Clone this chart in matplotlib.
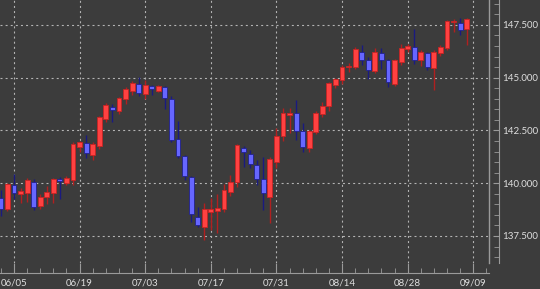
import matplotlib
matplotlib.use("Agg")
import matplotlib.pyplot as plt
import numpy as np
import pandas as pd
from matplotlib.ticker import MultipleLocator, FixedLocator

# daily bars, 2023-06-01 .. 2023-09-08
dates = pd.bdate_range("2023-06-01", "2023-09-08")

opens = [139.30, 138.80, 139.92, 139.50, 139.55, 140.05, 138.90, 139.35, 139.55, 140.20,
         140.02, 140.15, 141.72, 141.90, 141.35, 141.75, 143.05, 143.60, 143.42, 144.00,
         144.37, 144.70, 144.25, 144.60, 144.37, 144.56, 144.00, 142.10, 141.29, 140.30,
         138.40, 137.93, 138.64, 138.68, 138.78, 139.58, 140.06, 141.67, 141.39, 140.86,
         140.20, 139.35, 141.00, 142.24, 143.23, 143.33, 142.48, 141.67, 142.43, 143.28,
         143.66, 144.66, 144.89, 145.50, 145.51, 146.22, 145.84, 145.32, 146.17, 145.84,
         144.70, 145.75, 146.36, 146.46, 145.84, 146.17, 145.46, 146.17, 146.41, 147.62,
         147.60, 147.31]
highs = [139.70, 140.00, 140.45, 139.75, 140.25, 140.20, 139.50, 139.85, 140.25, 140.30,
         140.35, 141.95, 142.00, 142.30, 141.95, 143.20, 143.80, 143.75, 144.10, 144.55,
         144.85, 145.05, 144.90, 144.65, 144.65, 144.60, 144.15, 142.95, 141.35, 140.35,
         138.87, 139.06, 139.30, 139.50, 139.95, 140.40, 141.85, 141.76, 141.55, 141.10,
         141.26, 141.24, 142.60, 143.55, 143.55, 143.95, 142.86, 142.50, 143.40, 143.85,
         144.80, 145.00, 145.60, 145.70, 146.45, 146.55, 145.98, 146.40, 146.40, 145.89,
         145.90, 146.60, 146.60, 147.31, 146.30, 146.20, 146.30, 146.55, 147.75, 147.80,
         147.85, 147.85]
lows = [138.45, 138.70, 139.25, 139.05, 139.10, 138.75, 138.80, 139.00, 139.06, 139.25,
        139.90, 139.90, 141.50, 141.20, 141.10, 141.60, 142.90, 142.90, 143.30, 143.75,
        144.20, 144.15, 144.00, 144.20, 144.30, 143.52, 141.95, 141.20, 140.15, 138.16,
        137.93, 137.30, 137.78, 137.64, 138.65, 139.40, 139.80, 140.77, 140.70, 139.90,
        138.75, 138.12, 140.70, 142.00, 142.38, 142.05, 141.48, 141.50, 142.35, 143.14,
        143.40, 144.50, 144.70, 145.27, 145.40, 145.60, 144.94, 145.20, 145.40, 144.56,
        144.60, 145.60, 146.20, 145.65, 145.55, 145.35, 144.42, 146.05, 146.30, 147.15,
        147.00, 146.55]
closes = [138.80, 139.95, 139.55, 139.63, 140.15, 138.88, 139.35, 139.58, 140.20, 140.10,
          140.25, 141.86, 141.95, 141.43, 141.85, 143.14, 143.70, 143.47, 144.04, 144.47,
          144.75, 144.28, 144.66, 144.47, 144.60, 144.04, 142.05, 141.30, 140.34, 138.54,
          138.02, 138.78, 138.78, 138.83, 139.68, 140.06, 141.81, 141.48, 140.91, 140.20,
          139.54, 141.15, 142.24, 143.33, 143.33, 142.48, 141.72, 142.48, 143.33, 143.66,
          144.75, 144.94, 145.51, 145.57, 146.36, 145.84, 145.37, 146.22, 145.84, 144.80,
          145.84, 146.41, 146.50, 145.84, 146.22, 145.51, 146.22, 146.46, 147.69, 147.68,
          147.26, 147.78]

tick_labels = ["06/05", "06/19", "07/03", "07/17", "07/31", "08/14", "08/28", "09/09"]

bg = "#3c3c3c"
txt = "#dedede"
axis_col = "#9a9a9a"

plt.rcParams["font.family"] = ["Lato", "DejaVu Sans"]

fig = plt.figure(figsize=(5.4, 2.89), dpi=100, facecolor=bg)
ax = fig.add_axes([0, 1 - 263 / 289, 489 / 540, 263 / 289], facecolor=bg)

o = np.array(opens)
h = np.array(highs)
l = np.array(lows)
c = np.array(closes)
x = np.arange(len(dates)) - 2   # bar 0 = 06/05
up = c >= o

# wicks
ax.vlines(x[up], l[up], h[up], color="#b02020", lw=1.0, zorder=2)
ax.vlines(x[~up], l[~up], h[~up], color="#1a1a80", lw=1.0, zorder=2)

# bodies
body_lo = np.minimum(o, c)
body_h = np.maximum(np.abs(c - o), 0.06)
ax.bar(x[up], body_h[up], bottom=body_lo[up], width=0.74,
       color="#ff4141", edgecolor="#c82424", lw=0.6, zorder=3)
ax.bar(x[~up], body_h[~up], bottom=body_lo[~up], width=0.74,
       color="#6666ff", edgecolor="#22228c", lw=0.6, zorder=3)

ax.set_xlim(-2.13, 72.4)
ax.set_ylim(136.22, 148.68)

# grid
ax.xaxis.set_major_locator(FixedLocator(np.arange(0, 80, 10)))
ax.set_xticklabels(tick_labels)
ax.xaxis.set_minor_locator(MultipleLocator(2))
ax.yaxis.set_major_locator(MultipleLocator(2.5))
ax.yaxis.set_minor_locator(MultipleLocator(0.5))
ax.yaxis.set_major_formatter(matplotlib.ticker.FormatStrFormatter("%.3f"))
ax.grid(True, which="major", color="#b4b4b4", lw=0.8, linestyle=(0, (1.8, 2.8)))
ax.set_axisbelow(True)

# axes frame
for s in ["top", "left"]:
    ax.spines[s].set_visible(False)
ax.spines["bottom"].set_position(("outward", 7))
ax.spines["right"].set_position(("outward", 7))
ax.spines["bottom"].set_color(axis_col)
ax.spines["right"].set_color(axis_col)
ax.plot([1, 1], [0, 1], transform=ax.transAxes, color=axis_col, lw=1, clip_on=False)

ax.yaxis.tick_right()
ax.tick_params(axis="both", which="both", direction="in", colors=axis_col,
               labelcolor=txt, labelsize=7)
ax.tick_params(axis="x", which="major", length=7, pad=4)
ax.tick_params(axis="x", which="minor", length=3.5)
ax.tick_params(axis="y", which="major", length=4, pad=2.5)
ax.tick_params(axis="y", which="minor", length=3.5)

fig.savefig("out.png", dpi=100, facecolor=bg)
